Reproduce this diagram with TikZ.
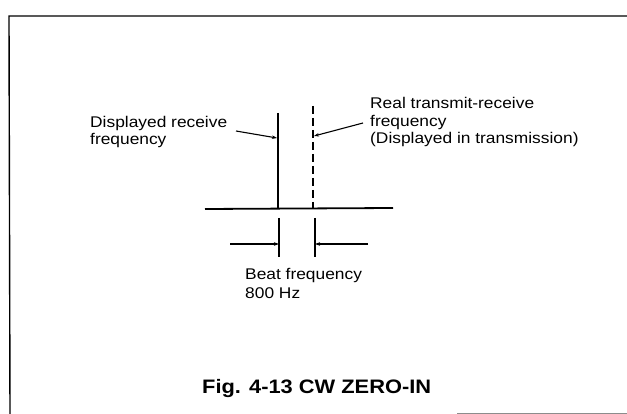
\documentclass[tikz,border=0pt]{standalone}
\usepackage{fontspec}
\setmainfont{Liberation Sans}[FakeStretch=1.12]
\usetikzlibrary{arrows.meta}
\begin{document}
\begin{tikzpicture}[x=1pt,y=-1pt,
  lbl/.style={inner sep=0pt,anchor=base west,align=left,font=\fontsize{15.5}{17.5}\selectfont},
  pointer/.style={line width=1.1pt,-{Stealth[length=5pt,width=3.5pt]}},
  freqline/.style={line width=1.8pt},
  tickline/.style={line width=1.1pt},
  frameline/.style={line width=1.4pt}]
\useasboundingbox (0,0) rectangle (627,414);
% frame
\coordinate (ftr) at (627,16);
\coordinate (ftl) at (9,16);
\coordinate (fbl) at (10,414);
\coordinate (bbl) at (457,413);
\coordinate (bbr) at (627,413);
\draw[frameline] (ftr) -- (ftl) -- (fbl);
\draw[line width=0.8pt,black!45] (bbl) -- (bbr);
% baseline and frequency lines
\coordinate (g1) at (205,209);
\coordinate (g2) at (393,208);
\draw[freqline] (g1) -- (g2);
\coordinate (s1) at (278,113);
\coordinate (s2) at (278,209);
\draw[freqline] (s1) -- (s2);
\coordinate (d1) at (313,106);
\coordinate (d2) at (313,208);
\draw[freqline,dash pattern=on 8pt off 4pt] (d1) -- (d2);
% labels (base anchor = baseline of last line)
\node[lbl] (lrx) at (90,145) {Displayed receive\\frequency};
\node[lbl] (ltx) at (370,144) {Real transmit-receive\\frequency\\(Displayed in transmission)};
\node[lbl,font=\fontsize{15.5}{20}\selectfont] (lbeat) at (245,299) {Beat frequency\\800 Hz};
\node[inner sep=0pt,anchor=base west,font=\fontsize{19.5}{22}\selectfont\bfseries] (cap) at (202,393) {Fig. 4-13 CW ZERO-IN};
% pointers
\coordinate (a1s) at (236,131);
\coordinate (a1e) at (277,138);
\draw[pointer] (a1s) -- (a1e);
\coordinate (a2s) at (363,123);
\coordinate (a2e) at (314,136);
\draw[pointer] (a2s) -- (a2e);
% beat ticks
\coordinate (t1a) at (279,218);
\coordinate (t1b) at (279,257);
\coordinate (t2a) at (315,218);
\coordinate (t2b) at (315,257);
\draw[tickline] (t1a) -- (t1b);
\draw[tickline] (t2a) -- (t2b);
\coordinate (h1s) at (230,244);
\coordinate (h1e) at (279,244);
\coordinate (h2s) at (368,244);
\coordinate (h2e) at (315,244);
\draw[pointer] (h1s) -- (h1e);
\draw[pointer] (h2s) -- (h2e);
\end{tikzpicture}
\end{document}
